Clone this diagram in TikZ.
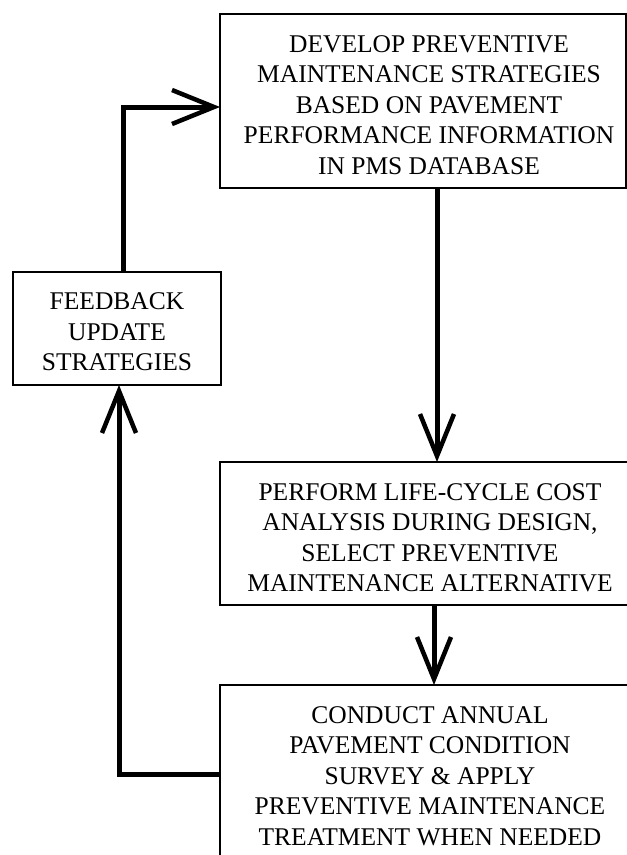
\documentclass[tikz,border=0pt]{standalone}
\usepackage{fontspec}
\setmainfont{Liberation Serif}
\usetikzlibrary{arrows.meta}
\begin{document}
\begin{tikzpicture}[x=1pt,y=-1pt,
  box/.style={draw=black, line width=1.8pt, rectangle, inner sep=0pt, outer sep=0pt},
  label/.style={align=center, inner sep=0pt, text depth=0pt, font=\fontsize{25.5}{30.5}\selectfont},
  conn/.style={draw=black, line width=5pt, -{Straight Barb[length=42pt,width=34pt,line width=4.5pt]}}]
\useasboundingbox (0,0) rectangle (627,855);
\clip (0,0) rectangle (627,855);
\fill[white] (0,0) rectangle (627,855);
% boxes
\node[box, minimum width=406pt, minimum height=174pt] (b1) at (423,101) {};
\node[box, minimum width=208pt, minimum height=113pt] (fb) at (117,328.5) {};
\node[box, minimum width=412pt, minimum height=143pt] (b3) at (426,533.5) {};
\node[box, minimum width=412pt, minimum height=185pt] (b4) at (426,777.5) {};
% texts
\node[label] (t1) at (429,105) {DEVELOP PREVENTIVE\\MAINTENANCE STRATEGIES\\BASED ON PAVEMENT\\PERFORMANCE INFORMATION\\IN PMS DATABASE};
\node[label] (tfb) at (117,332) {FEEDBACK\\UPDATE\\STRATEGIES};
\node[label] (t3) at (430,537.5) {PERFORM LIFE-CYCLE COST\\ANALYSIS DURING DESIGN,\\SELECT PREVENTIVE\\MAINTENANCE ALTERNATIVE};
\node[label] (t4) at (430,776) {CONDUCT ANNUAL\\PAVEMENT CONDITION\\SURVEY \& APPLY\\PREVENTIVE MAINTENANCE\\TREATMENT WHEN NEEDED};
% connectors
\draw[conn] ([xshift=14pt]b1.south) -- ([xshift=11pt]b3.north);
\draw[conn] ([xshift=8pt]b3.south) -- ([xshift=8pt]b4.north);
\draw[conn] ([yshift=3.5pt]b4.west) -| ([xshift=2pt]fb.south);
\draw[conn] ([xshift=6pt]fb.north) |- ([yshift=-6pt]b1.west);
\end{tikzpicture}
\end{document}
